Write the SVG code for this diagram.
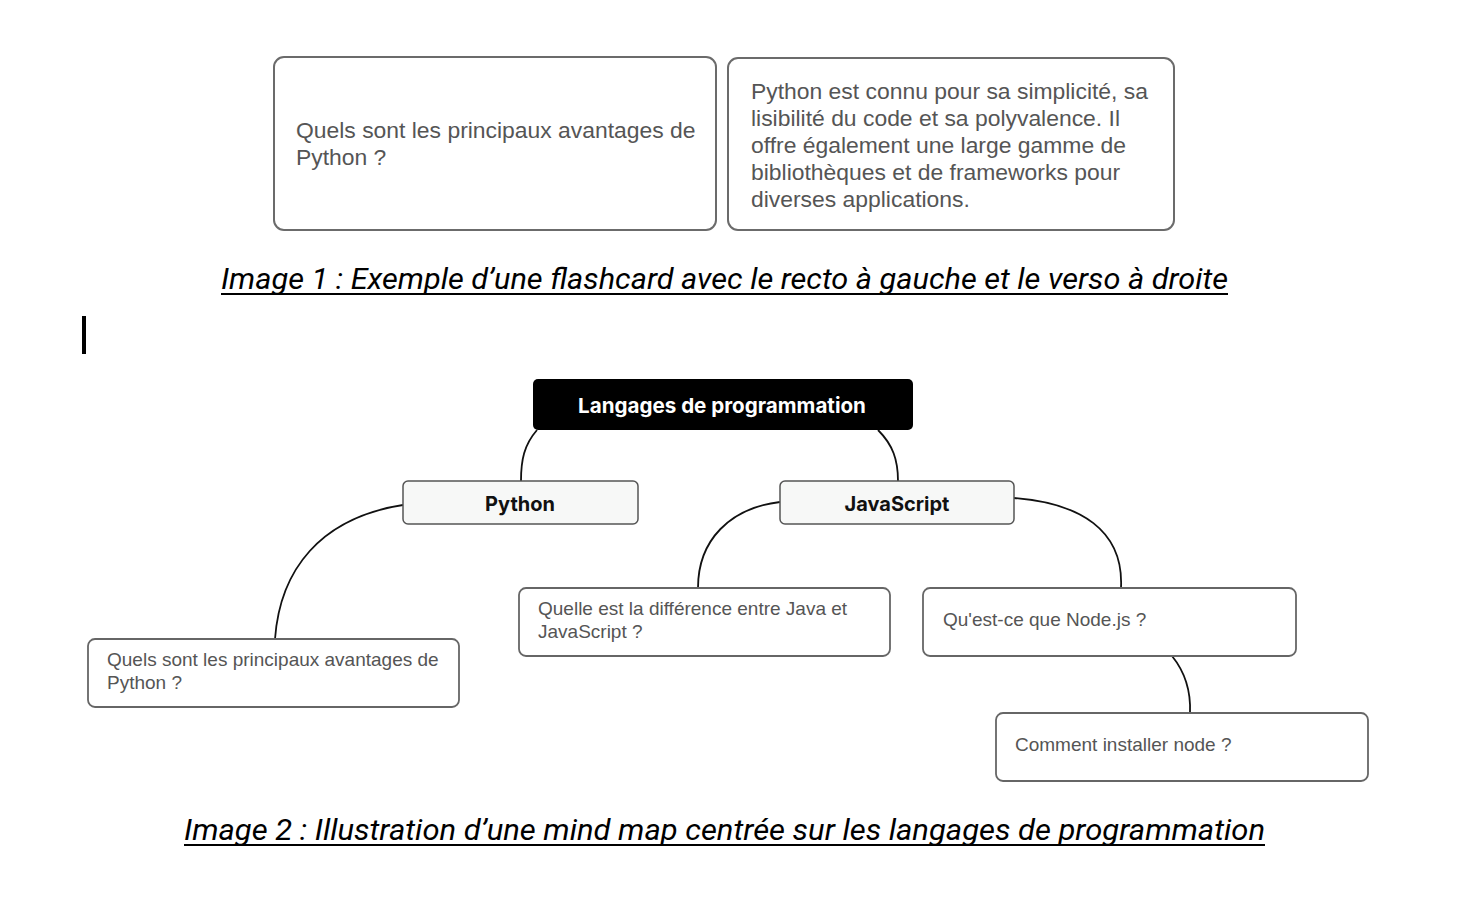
<svg xmlns="http://www.w3.org/2000/svg" width="1466" height="918" viewBox="0 0 1466 918">
<style>
.card{fill:#fff;stroke:#6b6b6b;stroke-width:2}
.ctext{font-family:"Liberation Sans",Arial,sans-serif;font-size:22.9px;fill:#555}
.cap{font-family:Roboto,"Liberation Sans",sans-serif;font-style:italic;font-size:30px;fill:#000}
.leaf{fill:#fff;stroke:#666;stroke-width:1.8}
.ltext{font-family:"Liberation Sans",Arial,sans-serif;font-size:19px;fill:#555}
.branch{fill:#f7f8f7;stroke:#555;stroke-width:1.5}
.btext{font-family:Inter,"Liberation Sans",sans-serif;font-weight:bold;font-size:20px;fill:#111;text-anchor:middle}
.conn{fill:none;stroke:#111;stroke-width:1.8}
</style>
<rect width="1466" height="918" fill="#fff"/>
<g id="recto">
<rect class="card" x="274" y="57" width="442" height="173" rx="10"/>
<text class="ctext" x="296" y="138">Quels sont les principaux avantages de</text>
<text class="ctext" x="296" y="165">Python ?</text>
</g>
<g id="verso">
<rect class="card" x="728" y="58" width="446" height="172" rx="10"/>
<text class="ctext" x="751" y="99">Python est connu pour sa simplicité, sa</text>
<text class="ctext" x="751" y="126">lisibilité du code et sa polyvalence. Il</text>
<text class="ctext" x="751" y="153">offre également une large gamme de</text>
<text class="ctext" x="751" y="180">bibliothèques et de frameworks pour</text>
<text class="ctext" x="751" y="207">diverses applications.</text>
</g>
<g id="caption1">
<text class="cap" x="221" y="289" textLength="1007" lengthAdjust="spacingAndGlyphs">Image 1 : Exemple d’une flashcard avec le recto à gauche et le verso à droite</text>
<rect x="221" y="293" width="1007" height="2" fill="#000"/>
</g>
<rect id="cursor" x="82" y="316" width="4" height="38" fill="#000"/>
<g id="connectors">
<path class="conn" d="M537,430 C524,445 521,460 521,481"/>
<path class="conn" d="M878,430 C893,445 898,460 898,481"/>
<path class="conn" d="M403,505 C320,518 280,570 275,639"/>
<path class="conn" d="M780,502 C730,508 698,540 698,588"/>
<path class="conn" d="M1014,498 C1080,503 1124,530 1121,588"/>
<path class="conn" d="M1172,656 C1185,672 1191,690 1190,713"/>
</g>
<g id="root">
<rect x="533" y="379" width="380" height="51" rx="5" fill="#000"/>
<text x="722" y="413" font-family="Inter,'Liberation Sans',sans-serif" font-weight="bold" font-size="20.6" fill="#fff" text-anchor="middle">Langages de programmation</text>
</g>
<g id="python">
<rect class="branch" x="403" y="481" width="235" height="43" rx="5"/>
<text class="btext" x="520" y="511">Python</text>
</g>
<g id="javascript">
<rect class="branch" x="780" y="481" width="234" height="43" rx="5"/>
<text class="btext" x="897" y="511">JavaScript</text>
</g>
<g id="leaf-python">
<rect class="leaf" x="88" y="639" width="371" height="68" rx="7"/>
<text class="ltext" x="107" y="666">Quels sont les principaux avantages de</text>
<text class="ltext" x="107" y="689">Python ?</text>
</g>
<g id="leaf-java">
<rect class="leaf" x="519" y="588" width="371" height="68" rx="7"/>
<text class="ltext" x="538" y="615">Quelle est la différence entre Java et</text>
<text class="ltext" x="538" y="638">JavaScript ?</text>
</g>
<g id="leaf-node">
<rect class="leaf" x="923" y="588" width="373" height="68" rx="7"/>
<text class="ltext" x="943" y="626">Qu'est-ce que Node.js ?</text>
</g>
<g id="leaf-install">
<rect class="leaf" x="996" y="713" width="372" height="68" rx="7"/>
<text class="ltext" x="1015" y="751">Comment installer node ?</text>
</g>
<g id="caption2">
<text class="cap" x="184" y="840" textLength="1081" lengthAdjust="spacingAndGlyphs">Image 2 : Illustration d’une mind map centrée sur les langages de programmation</text>
<rect x="184" y="844" width="1081" height="2" fill="#000"/>
</g>
</svg>
